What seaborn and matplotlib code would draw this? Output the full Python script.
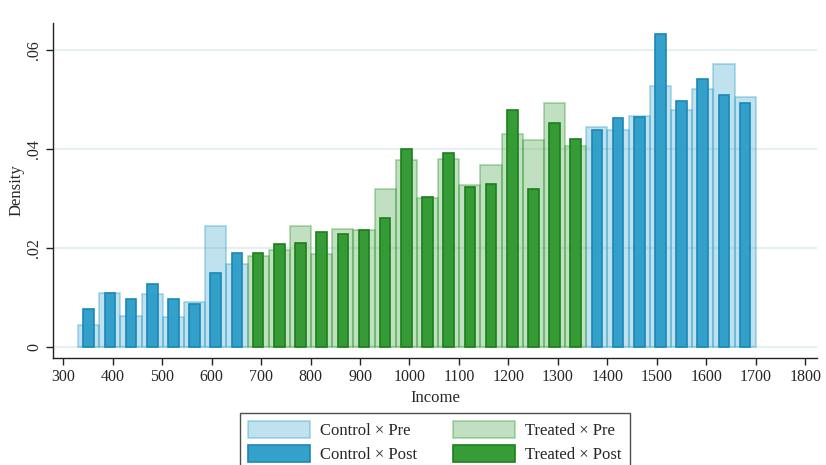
import numpy as np
import pandas as pd
import matplotlib
matplotlib.use("Agg")
import matplotlib.pyplot as plt
from matplotlib.patches import Patch
import seaborn as sns

# Histogram bins (income)
bin_start = 330.0
bin_end = 1700.0
n_bins = 32

# Density per bin; control occupies bins 1-8 and 25-32, treated bins 9-24
control_pre = [0.0045, 0.0110, 0.0063, 0.0108, 0.0061, 0.0091, 0.0245, 0.0168,
               0.0446, 0.0440, 0.0468, 0.0529, 0.0479, 0.0522, 0.0573, 0.0506]
control_post = [0.0077, 0.0110, 0.0098, 0.0128, 0.0098, 0.0087, 0.0151, 0.0191,
                0.0440, 0.0464, 0.0466, 0.0634, 0.0498, 0.0543, 0.0510, 0.0494]
treated_pre = [0.0184, 0.0197, 0.0245, 0.0189, 0.0240, 0.0238, 0.0320, 0.0379,
               0.0302, 0.0381, 0.0328, 0.0369, 0.0432, 0.0419, 0.0494, 0.0407]
treated_post = [0.0191, 0.0209, 0.0211, 0.0232, 0.0229, 0.0237, 0.0261, 0.0401,
                0.0304, 0.0393, 0.0324, 0.0329, 0.0479, 0.0319, 0.0454, 0.0421]

x_ticks = list(range(300, 1801, 100))
y_ticks = [0, 0.02, 0.04, 0.06]
y_tick_labels = ["0", ".02", ".04", ".06"]
labels = ["Control \u00d7 Pre", "Control \u00d7 Post", "Treated \u00d7 Pre", "Treated \u00d7 Post"]

edges = np.linspace(bin_start, bin_end, n_bins + 1)
centers = (edges[:-1] + edges[1:]) / 2
# contiguous bin ranges (start, stop) for each arm
control_segments = [(0, 8), (24, 32)]
treated_segments = [(8, 24)]


def arm_frame(segments, values, name):
    idx = [i for a, b in segments for i in range(a, b)]
    return pd.DataFrame({"income": centers[idx], "density": values, "group": name})


df = pd.concat([
    arm_frame(control_segments, control_pre, labels[0]),
    arm_frame(control_segments, control_post, labels[1]),
    arm_frame(treated_segments, treated_pre, labels[2]),
    arm_frame(treated_segments, treated_post, labels[3]),
], ignore_index=True)

sns.set_theme(style="white")
plt.rcParams["font.family"] = ["Liberation Serif", "DejaVu Serif"]

blue = (47 / 255, 159 / 255, 200 / 255)
green = (51 / 255, 153 / 255, 51 / 255)
styles = {
    labels[0]: dict(facecolor=(*blue, 0.30), edgecolor=(*blue, 0.40), shrink=1.0, seg=control_segments),
    labels[1]: dict(facecolor=(*blue, 0.98), edgecolor=(0.10, 0.53, 0.73, 1.0), shrink=0.5, seg=control_segments),
    labels[2]: dict(facecolor=(*green, 0.30), edgecolor=(*green, 0.40), shrink=1.0, seg=treated_segments),
    labels[3]: dict(facecolor=(*green, 0.98), edgecolor=(0.10, 0.50, 0.10, 1.0), shrink=0.5, seg=treated_segments),
}

fig = plt.figure(figsize=(8.26, 4.65), dpi=100)
ax = fig.add_axes([0.0645, 0.2308, 0.9245, 0.7204])

for yt in y_ticks:
    ax.axhline(yt, color="#e6eff1", lw=1.6, zorder=0)

for name in [labels[0], labels[2], labels[1], labels[3]]:
    st = styles[name]
    sub = df[df["group"] == name]
    for a, b in st["seg"]:
        lo, hi = edges[a], edges[b]
        part = sub[(sub["income"] > lo) & (sub["income"] < hi)]
        sns.histplot(data=part, x="income", weights="density", bins=edges[a:b + 1].tolist(),
                     stat="count", shrink=st["shrink"], facecolor=st["facecolor"],
                     edgecolor=st["edgecolor"], linewidth=1.2, ax=ax, zorder=2)

ax.set_xlim(279.8, 1823.7)
ax.set_ylim(-0.0021, 0.0656)
ax.set_xticks(x_ticks)
ax.set_xticklabels([str(t) for t in x_ticks], fontsize=11.5)
ax.set_yticks(y_ticks)
ax.set_yticklabels(y_tick_labels, fontsize=11.5, rotation=90, va="center")
ax.set_xlabel("Income", fontsize=12, labelpad=4)
ax.set_ylabel("Density", fontsize=12, labelpad=1)
ax.tick_params(axis="both", direction="out", length=5, width=1, color="#222222", pad=3,
               bottom=True, left=True)
for side in ["top", "right"]:
    ax.spines[side].set_visible(False)
for side in ["left", "bottom"]:
    ax.spines[side].set_color("#222222")
    ax.spines[side].set_linewidth(1.0)
ax.grid(False)

handles = [Patch(facecolor=styles[l]["facecolor"], edgecolor=styles[l]["edgecolor"], linewidth=1.2)
           for l in labels]
leg = fig.legend(handles, labels, loc="upper left", bbox_to_anchor=(0.29, 0.112), ncol=2,
                 fontsize=12, frameon=True, fancybox=False, edgecolor="#222222",
                 handlelength=3.7, handleheight=1.2, labelspacing=0.34, columnspacing=2.2,
                 handletextpad=0.6, borderpad=0.5, borderaxespad=0)
leg.get_frame().set_linewidth(1.0)

fig.savefig("out.png", dpi=100)
